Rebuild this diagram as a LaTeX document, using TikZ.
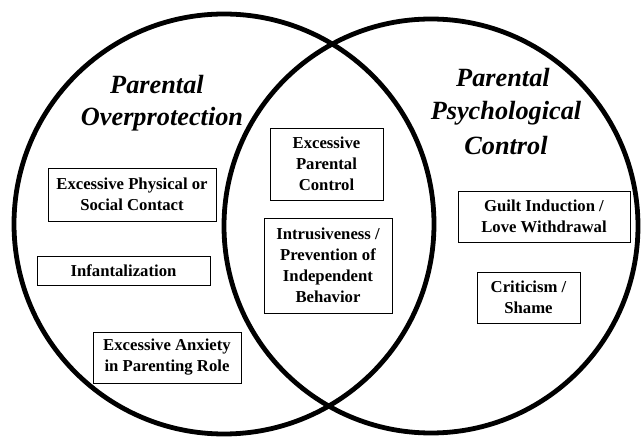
\documentclass[tikz,border=0pt]{standalone}
\usepackage{fontspec}
\setmainfont{Liberation Serif}
\begin{document}
\begin{tikzpicture}[x=1pt,y=-1pt,
  ring/.style={draw=black,line width=4.8pt},
  title/.style={font=\fontsize{26.3}{32}\selectfont\bfseries\itshape,anchor=base,inner sep=0pt},
  item/.style={draw=black,line width=0.8pt,inner sep=0pt,align=center,
    font=\fontsize{16.7}{21}\selectfont\bfseries}]
\useasboundingbox (0,0) rectangle (641,438);
\draw[ring] (224,224) circle[radius=210];
\draw[ring] (431,226) circle[radius=207];
\node[title] (l1) at (157,94) {Parental};
\node[title] (l2) at (162,126) {Overprotection};
\node[title] (r1) at (503,87) {Parental};
\node[title] (r2) at (506,120) {Psychological};
\node[title] (r3) at (506,155) {Control};
\node[item,minimum width=168,minimum height=53] (a) at (132,194.5) {Excessive Physical or\\Social Contact};
\node[item,minimum width=173,minimum height=29] (b) at (123.5,270.5) {Infantalization};
\node[item,minimum width=148,minimum height=51] (c) at (167,357.5) {Excessive Anxiety\\in Parenting Role};
\node[item,minimum width=113,minimum height=72] (d) at (326.5,164) {Excessive\\Parental\\Control};
\node[item,minimum width=128,minimum height=95] (e) at (328,265.5) {Intrusiveness /\\Prevention of\\Independent\\Behavior};
\node[item,minimum width=172,minimum height=51] (f) at (544,216.5) {Guilt Induction /\\Love Withdrawal};
\node[item,minimum width=103,minimum height=51] (g) at (528.5,297.5) {Criticism /\\Shame};
\end{tikzpicture}
\end{document}
